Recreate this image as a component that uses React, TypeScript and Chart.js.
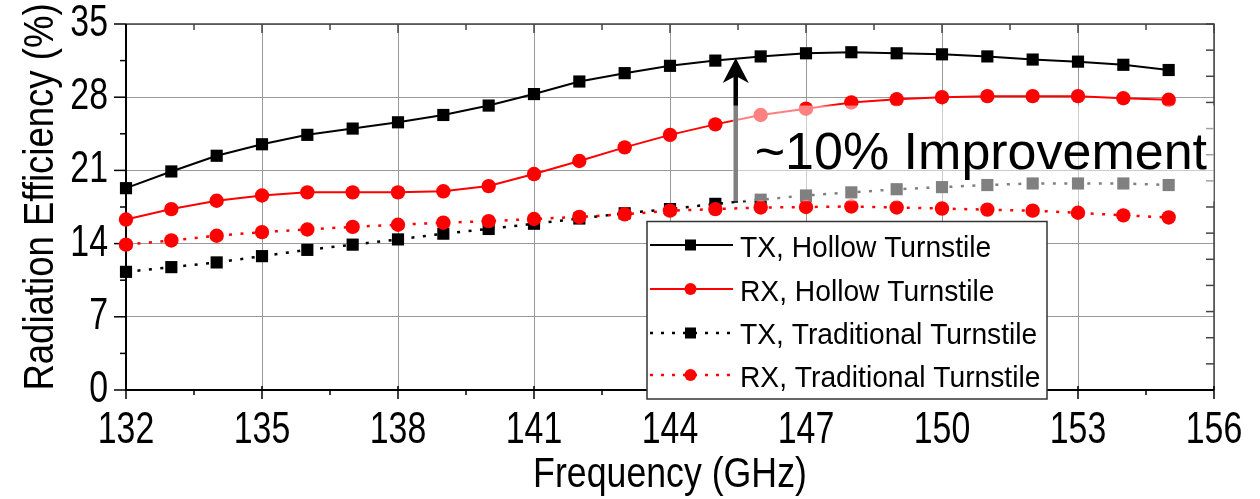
import React, { useEffect, useRef } from "react";
import { Chart, registerables } from "chart.js";

Chart.register(...registerables);

// ---------- data ----------
const frequencies = [132, 133, 134, 135, 136, 137, 138, 139, 140, 141, 142, 143, 144, 145, 146, 147, 148, 149, 150, 151, 152, 153, 154, 155];
const txHollow = [19.3, 20.9, 22.4, 23.5, 24.4, 25.0, 25.6, 26.3, 27.2, 28.3, 29.5, 30.3, 31.0, 31.5, 31.9, 32.2, 32.3, 32.2, 32.1, 31.9, 31.6, 31.4, 31.1, 30.6];
const rxHollow = [16.3, 17.3, 18.1, 18.6, 18.9, 18.9, 18.9, 19.0, 19.5, 20.65, 21.9, 23.2, 24.4, 25.4, 26.3, 26.9, 27.5, 27.8, 28.0, 28.1, 28.1, 28.1, 27.9, 27.75];
const txTraditional = [11.3, 11.75, 12.2, 12.8, 13.4, 13.9, 14.4, 14.95, 15.4, 15.9, 16.4, 16.9, 17.3, 17.8, 18.2, 18.6, 18.9, 19.2, 19.4, 19.6, 19.75, 19.75, 19.75, 19.6];
const rxTraditional = [13.9, 14.3, 14.75, 15.1, 15.35, 15.6, 15.8, 16.0, 16.15, 16.35, 16.55, 16.8, 17.15, 17.3, 17.45, 17.5, 17.55, 17.45, 17.35, 17.25, 17.15, 16.95, 16.7, 16.5];

const xTickLabels = [132, 135, 138, 141, 144, 147, 150, 153, 156];
const yTickLabels = [0, 7, 14, 21, 28, 35];
const seriesNames = ["TX, Hollow Turnstile", "RX, Hollow Turnstile", "TX, Traditional Turnstile", "RX, Traditional Turnstile"];
const xTitle = "Frequency (GHz)";
const yTitle = "Radiation Efficiency (%)";
const annotationText = "~10% Improvement";
// arrow annotation (data coordinates)
const arrowFreq = 145.45;
const arrowFrom = 17.9;
const arrowTo = 31.75;
const overlayTop = 27.2;
const overlayBottom = 18.05;

const FONT = "'Liberation Sans', Arial, Helvetica, sans-serif";

function drawText(
  ctx: CanvasRenderingContext2D,
  s: string,
  x: number,
  y: number,
  size: number,
  sx: number,
  align: CanvasTextAlign,
  rot = 0
) {
  ctx.save();
  ctx.translate(x, y);
  if (rot) ctx.rotate(rot);
  ctx.scale(sx, 1);
  ctx.font = `${size}px ${FONT}`;
  ctx.fillStyle = "#000";
  ctx.textAlign = align;
  ctx.textBaseline = "alphabetic";
  ctx.fillText(s, 0, 0);
  ctx.restore();
}

const framePlugin = {
  id: "frame",
  beforeDatasetsDraw(chart: any) {
    const ctx: CanvasRenderingContext2D = chart.ctx;
    const xs = chart.scales.x;
    const ys = chart.scales.y;
    const { left, right, top, bottom } = chart.chartArea;
    ctx.save();
    // top & right borders
    ctx.strokeStyle = "#444";
    ctx.lineWidth = 1.5;
    ctx.beginPath();
    ctx.moveTo(left, top);
    ctx.lineTo(right, top);
    ctx.lineTo(right, bottom);
    ctx.stroke();
    // top ticks (inward)
    for (let v = 132; v <= 156.001; v += 1.5) {
      const px = xs.getPixelForValue(v);
      const major = Math.abs((v - 132) % 3) < 0.01;
      ctx.beginPath();
      ctx.moveTo(px, top);
      ctx.lineTo(px, top + (major ? 9 : 6));
      ctx.stroke();
    }
    // right ticks (inward)
    for (let v = 0; v <= 35.001; v += 2.5) {
      const py = ys.getPixelForValue(v);
      ctx.beginPath();
      ctx.moveTo(right, py);
      ctx.lineTo(right - 8, py);
      ctx.stroke();
    }
    // left & bottom axes
    ctx.strokeStyle = "#000";
    ctx.lineWidth = 2;
    ctx.beginPath();
    ctx.moveTo(left, top);
    ctx.lineTo(left, bottom);
    ctx.lineTo(right, bottom);
    ctx.stroke();
    ctx.lineWidth = 1.5;
    for (let v = 132; v <= 156.001; v += 1.5) {
      const px = xs.getPixelForValue(v);
      const major = Math.abs((v - 132) % 3) < 0.01;
      ctx.beginPath();
      ctx.moveTo(px, bottom - (major ? 4 : 0));
      ctx.lineTo(px, bottom + (major ? 9 : 5));
      ctx.stroke();
    }
    for (let v = 0; v <= 35.001; v += 3.5) {
      const py = ys.getPixelForValue(v);
      const major = Math.abs(v % 7) < 0.01;
      ctx.beginPath();
      ctx.moveTo(left, py);
      ctx.lineTo(left - (major ? 12 : 6), py);
      ctx.stroke();
    }
    ctx.restore();
    // tick labels
    xTickLabels.forEach((v) => {
      drawText(ctx, String(v), xs.getPixelForValue(v), bottom + 53, 44, 0.77, "center");
    });
    yTickLabels.forEach((v) => {
      drawText(ctx, String(v), left - 18, ys.getPixelForValue(v) + 12, 44, 0.77, "right");
    });
    // titles
    drawText(ctx, xTitle, (left + right) / 2, bottom + 97, 42, 0.85, "center");
    drawText(ctx, yTitle, 53, (top + bottom) / 2 - 10, 42, 0.87, "center", -Math.PI / 2);
  },
  afterDatasetsDraw(chart: any) {
    const ctx: CanvasRenderingContext2D = chart.ctx;
    const xs = chart.scales.x;
    const ys = chart.scales.y;
    const { right } = chart.chartArea;
    const ax = xs.getPixelForValue(arrowFreq);
    const yTail = ys.getPixelForValue(arrowFrom);
    const yTip = ys.getPixelForValue(arrowTo);
    ctx.save();
    // arrow
    ctx.strokeStyle = "#000";
    ctx.fillStyle = "#000";
    ctx.lineWidth = 4.5;
    ctx.beginPath();
    ctx.moveTo(ax, yTail);
    ctx.lineTo(ax, yTip + 15);
    ctx.stroke();
    ctx.beginPath();
    ctx.moveTo(ax, yTip);
    ctx.lineTo(ax + 13, yTip + 25);
    ctx.lineTo(ax, yTip + 18);
    ctx.lineTo(ax - 13, yTip + 25);
    ctx.closePath();
    ctx.fill();
    // semi-transparent text box
    const oy1 = ys.getPixelForValue(overlayTop);
    const oy2 = ys.getPixelForValue(overlayBottom);
    ctx.fillStyle = "rgba(255,255,255,0.5)";
    ctx.fillRect(ax - 3, oy1, right - (ax - 3), oy2 - oy1);
    ctx.restore();
    drawText(ctx, annotationText, ax + 19, ys.getPixelForValue(21.15), 52, 1.0, "left");

    // legend
    const bx = 647, by = 221.5, bw = 400, bh = 177.5;
    ctx.save();
    ctx.fillStyle = "#fff";
    ctx.fillRect(bx, by, bw, bh);
    ctx.strokeStyle = "#333";
    ctx.lineWidth = 1.5;
    ctx.strokeRect(bx, by, bw, bh);
    const rowsY = [245, 289, 333, 375];
    const baseY = [257, 300.5, 344, 387];
    const colors = ["#000", "#ff0000", "#000", "#ff0000"];
    const dotted = [false, false, true, true];
    const squares = [true, false, true, false];
    rowsY.forEach((ry, i) => {
      ctx.save();
      ctx.strokeStyle = colors[i];
      ctx.lineWidth = dotted[i] ? 2.5 : 2;
      ctx.lineCap = "butt";
      if (dotted[i]) ctx.setLineDash([3, 8]);
      ctx.beginPath();
      ctx.moveTo(650, ry);
      ctx.lineTo(733, ry);
      ctx.stroke();
      ctx.restore();
      ctx.fillStyle = colors[i];
      if (squares[i]) {
        ctx.fillRect(685, ry - 5.5, 11, 11);
      } else {
        ctx.beginPath();
        ctx.arc(690.5, ry, 6, 0, Math.PI * 2);
        ctx.fill();
      }
      drawText(ctx, seriesNames[i], 740, baseY[i], 30, 0.94, "left");
    });
    ctx.restore();
  },
};

export default function App() {
  const ref = useRef<HTMLCanvasElement | null>(null);
  useEffect(() => {
    if (!ref.current) return;
    const pts = (arr: number[]) => frequencies.map((f, i) => ({ x: f, y: arr[i] }));
    const chart = new Chart(ref.current, {
      type: "line",
      data: {
        datasets: [
          {
            label: seriesNames[0],
            data: pts(txHollow),
            borderColor: "#000",
            borderWidth: 2,
            pointStyle: "rect",
            pointRadius: 8.6,
            pointBackgroundColor: "#000",
            pointBorderWidth: 0,
            order: 0,
            clip: false,
          },
          {
            label: seriesNames[1],
            data: pts(rxHollow),
            borderColor: "#ff0000",
            borderWidth: 2,
            pointStyle: "circle",
            pointRadius: 7.2,
            pointBackgroundColor: "#ff0000",
            pointBorderWidth: 0,
            order: 1,
            clip: false,
          },
          {
            label: seriesNames[2],
            data: pts(txTraditional),
            borderColor: "#000",
            borderWidth: 2.5,
            borderDash: [3, 8.5],
            borderCapStyle: "butt",
            pointStyle: "rect",
            pointRadius: 8.6,
            pointBackgroundColor: "#000",
            pointBorderWidth: 0,
            order: 3,
            clip: false,
          },
          {
            label: seriesNames[3],
            data: pts(rxTraditional),
            borderColor: "#ff0000",
            borderWidth: 2.5,
            borderDash: [3, 8.5],
            borderCapStyle: "butt",
            pointStyle: "circle",
            pointRadius: 7.2,
            pointBackgroundColor: "#ff0000",
            pointBorderWidth: 0,
            order: 2,
            clip: false,
          },
        ] as any,
      },
      options: {
        responsive: false,
        animation: false,
        events: [],
        layout: { padding: { left: 126, right: 46, top: 24, bottom: 109 } },
        plugins: { legend: { display: false }, tooltip: { enabled: false } },
        scales: {
          x: {
            type: "linear",
            min: 132,
            max: 156,
            ticks: { display: false, stepSize: 3 },
            grid: { drawTicks: false, color: "#999", lineWidth: 1 },
            border: { display: false },
          },
          y: {
            type: "linear",
            min: 0,
            max: 35,
            ticks: { display: false, stepSize: 7 },
            grid: { drawTicks: false, color: "#999", lineWidth: 1 },
            border: { display: false },
          },
        },
      },
      plugins: [framePlugin as any],
    });
    return () => chart.destroy();
  }, []);
  return (
    <div style={{ position: "absolute", left: 0, top: 0, width: 1260, height: 499, background: "#fff" }}>
      <canvas ref={ref} width={1260} height={499} style={{ width: 1260, height: 499, display: "block" }} />
    </div>
  );
}
